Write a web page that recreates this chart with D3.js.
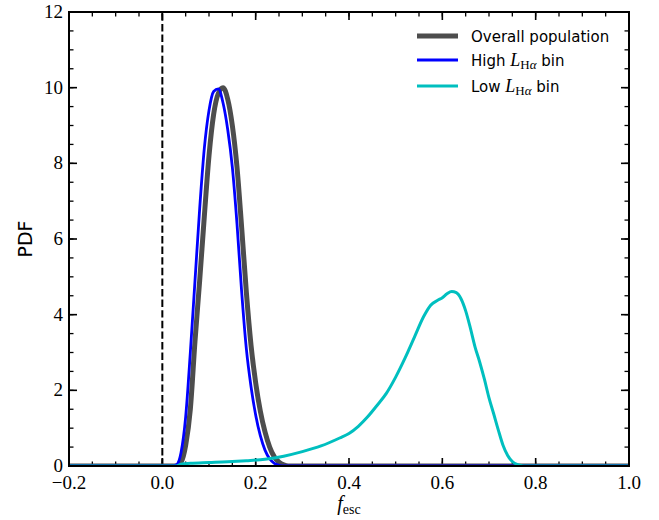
<!DOCTYPE html>
<html><head><meta charset="utf-8">
<script src="https://cdn.jsdelivr.net/npm/d3@7"></script>
<style>body{margin:0;background:#fff}svg{display:block}</style>
</head><body>
<svg id="c" width="659" height="520"></svg>
<script>
// ---- data ----
const overallX = [-0.2,0.03,0.04,0.05,0.06,0.07,0.08,0.09,0.10,0.11,0.12,0.13,0.14,0.15,0.16,0.17,0.18,0.19,0.20,0.21,0.22,0.23,0.24,0.25,0.26,0.27,1.0];
const overallY = [0,0,0.1,0.55,1.5,3.3,4.9,6.6,8.2,9.3,9.85,10.0,9.7,9.0,7.9,6.3,4.6,3.2,2.2,1.45,0.9,0.5,0.24,0.1,0.03,0,0];
const highX = [-0.2,0.02,0.03,0.04,0.05,0.06,0.07,0.08,0.09,0.10,0.11,0.12,0.13,0.14,0.15,0.16,0.17,0.18,0.19,0.20,0.21,0.22,0.23,0.24,0.25,0.26,1.0];
const highY = [0,0,0.03,0.35,1.3,3.0,4.9,6.8,8.4,9.4,9.9,9.97,9.6,8.9,7.9,6.4,4.6,3.1,2.1,1.35,0.8,0.42,0.19,0.07,0.02,0,0];
const lowX = [-0.2,0.03,0.04,0.06,0.10,0.14,0.18,0.22,0.26,0.30,0.34,0.38,0.40,0.42,0.44,0.46,0.48,0.50,0.52,0.54,0.56,0.575,0.59,0.60,0.61,0.62,0.63,0.64,0.65,0.66,0.67,0.68,0.69,0.70,0.71,0.72,0.73,0.74,0.75,0.76,0.77,0.78,1.0];
const lowY = [0,0,0.05,0.07,0.09,0.11,0.14,0.18,0.26,0.38,0.53,0.74,0.86,1.05,1.3,1.6,1.92,2.35,2.85,3.4,3.95,4.25,4.38,4.45,4.55,4.61,4.58,4.42,4.1,3.65,3.15,2.75,2.3,1.8,1.38,0.95,0.55,0.28,0.12,0.04,0.01,0,0];
const xTicks = [-0.2,0.0,0.2,0.4,0.6,0.8,1.0];
const yTicks = [0,2,4,6,8,10,12];
const seriesNames = ["Overall population","High","Low"];
const seriesColors = ["#4d4d4d","#0000ff","#00bfbf"];

// ---- layout ----
const svg = d3.select("#c");
const L=69, R=629, T=12, B=466;
const x = d3.scaleLinear().domain([-0.2,1.0]).range([L,R]);
const y = d3.scaleLinear().domain([0,12]).range([B,T]);
const serif = "'Liberation Serif','DejaVu Serif',serif";
const sans = "'DejaVu Sans',sans-serif";

svg.append("defs").append("clipPath").attr("id","clip")
  .append("rect").attr("x",L).attr("y",T).attr("width",R-L).attr("height",B-T);

// ticks (inward, all sides)
const g = svg.append("g");
const xMinor = d3.range(-0.2,1.0001,0.05);
const yMinor = d3.range(0,12.0001,0.5);
function tickSet(vals, len, w){
  vals.forEach(v=>{
    const px=x(v);
    g.append("line").attr("x1",px).attr("x2",px).attr("y1",B).attr("y2",B-len).attr("stroke","#000").attr("stroke-width",w);
    g.append("line").attr("x1",px).attr("x2",px).attr("y1",T).attr("y2",T+len).attr("stroke","#000").attr("stroke-width",w);
  });
}
function ytickSet(vals, len, w){
  vals.forEach(v=>{
    const py=y(v);
    g.append("line").attr("y1",py).attr("y2",py).attr("x1",L).attr("x2",L+len).attr("stroke","#000").attr("stroke-width",w);
    g.append("line").attr("y1",py).attr("y2",py).attr("x1",R).attr("x2",R-len).attr("stroke","#000").attr("stroke-width",w);
  });
}
tickSet(xMinor,4.5,1.3); tickSet(xTicks,8,1.6);
ytickSet(yMinor,4.5,1.3); ytickSet(yTicks,8,1.6);

// tick labels
const fmtX = v => (v<0?"\u2212":"")+Math.abs(v).toFixed(1);
xTicks.forEach(v=>{
  svg.append("text").attr("x",x(v)).attr("y",B+23).attr("text-anchor","middle")
    .attr("font-family",serif).attr("font-size",19).text(fmtX(v));
});
yTicks.forEach(v=>{
  svg.append("text").attr("x",L-6).attr("y",y(v)+6).attr("text-anchor","end")
    .attr("font-family",serif).attr("font-size",19).text(v);
});

// curves
const line = d3.line().curve(d3.curveMonotoneX);
const cg = svg.append("g").attr("clip-path","url(#clip)");
// dashed zero line
cg.append("line").attr("x1",x(0)).attr("x2",x(0)).attr("y1",y(0)).attr("y2",y(12))
  .attr("stroke","#000").attr("stroke-width",2).attr("stroke-dasharray","7.4,3.2");
const series = [[overallX,overallY,5],[highX,highY,2.8],[lowX,lowY,3]];
series.forEach((s,i)=>{
  const pts = s[0].map((xv,j)=>[x(xv),y(s[1][j])]);
  cg.append("path").attr("d",line(pts)).attr("fill","none")
    .attr("stroke",seriesColors[i]).attr("stroke-width",s[2]).attr("stroke-linejoin","round");
});

// spine
svg.append("rect").attr("x",L).attr("y",T).attr("width",R-L).attr("height",B-T)
  .attr("fill","none").attr("stroke","#000").attr("stroke-width",2);

// axis labels
const xl = svg.append("text").attr("x",(L+R)/2).attr("y",510).attr("text-anchor","middle")
  .attr("font-family",serif).attr("font-size",20);
xl.append("tspan").attr("font-style","italic").text("f");
xl.append("tspan").attr("font-size",14).attr("dy",4).text("esc");
svg.append("text").attr("transform",`translate(32,${(T+B)/2}) rotate(-90)`)
  .attr("text-anchor","middle").attr("font-family",sans).attr("font-size",19).text("PDF");

// legend
const legY = [36,60,86];
const legW = [5,3,3];
legY.forEach((ly,i)=>{
  svg.append("line").attr("x1",417).attr("x2",458).attr("y1",ly).attr("y2",ly)
    .attr("stroke",seriesColors[i]).attr("stroke-width",legW[i]);
  const t = svg.append("text").attr("x",471).attr("y",ly+5.5).attr("font-family",sans).attr("font-size",15);
  if(i===0){ t.text(seriesNames[0]); }
  else {
    t.append("tspan").text(seriesNames[i]+" ");
    t.append("tspan").attr("font-family",serif).attr("font-style","italic").attr("font-size",18).text("L");
    t.append("tspan").attr("font-family",serif).attr("font-size",13).attr("dy",3.5).text("H");
    t.append("tspan").attr("font-family",serif).attr("font-style","italic").attr("font-size",13).text("\u03B1");
    t.append("tspan").attr("dy",-3.5).text(" bin");
  }
});
</script>
</body></html>
